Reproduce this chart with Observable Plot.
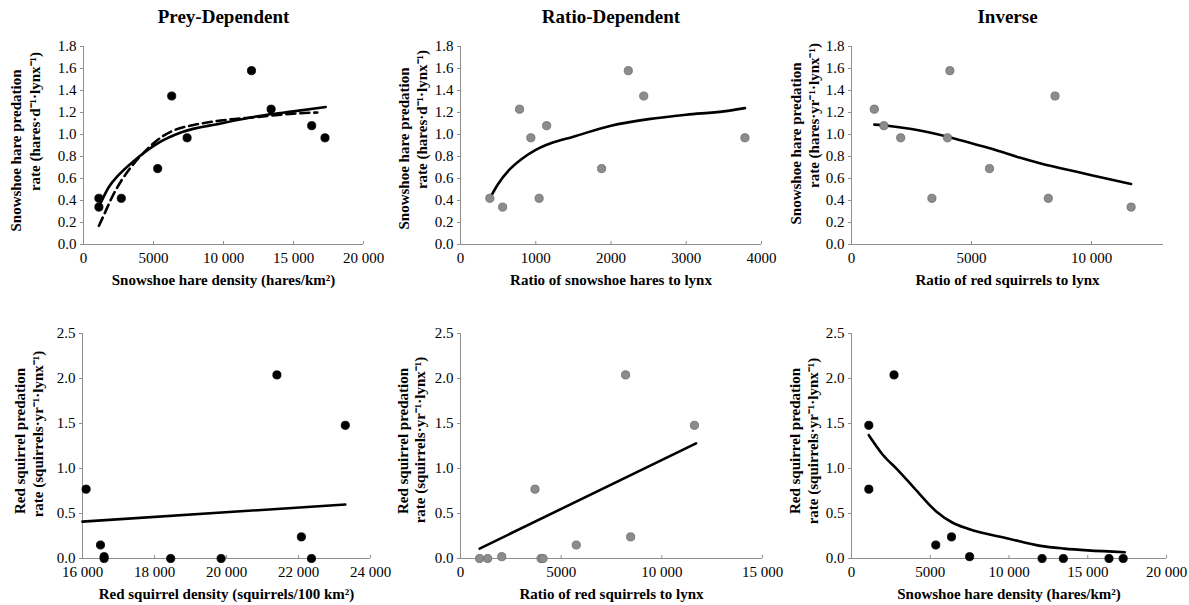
<!DOCTYPE html>
<html><head><meta charset="utf-8">
<script src="https://cdn.jsdelivr.net/npm/d3@7"></script>
<script src="https://cdn.jsdelivr.net/npm/@observablehq/plot@0.6"></script>
<style>
body{margin:0;background:#fff;}
#wrap{position:relative;width:1189px;height:605px;}
#wrap svg{position:absolute;}
#wrap svg, #wrap svg text{font-family:"Liberation Serif","Times New Roman",serif !important;}
</style></head><body><div id="wrap"></div>
<script>
// ---- titles ----
const columnTitles = ["Prey-Dependent", "Ratio-Dependent", "Inverse"];

// ---- tick values ----
const hareRateTicks = [0, 0.2, 0.4, 0.6, 0.8, 1.0, 1.2, 1.4, 1.6, 1.8];
const squirrelRateTicks = [0, 0.5, 1.0, 1.5, 2.0, 2.5];
const hareDensityTicks = [0, 5000, 10000, 15000, 20000];
const hareRatioTicks = [0, 1000, 2000, 3000, 4000];
const squirrelRatioTicksTop = [0, 5000, 10000];
const squirrelDensityTicks = [16000, 18000, 20000, 22000, 24000];
const squirrelRatioTicksBottom = [0, 5000, 10000, 15000];

// ---- Panel 1: hare predation vs hare density ----
const p1X = [1100, 1100, 2700, 5300, 6300, 7400, 12000, 13400, 16300, 17250];
const p1Y = [0.42, 0.34, 0.42, 0.69, 1.35, 0.97, 1.58, 1.23, 1.08, 0.97];
const p1SolidX = [1200, 1800, 2500, 3600, 5300, 7000, 9800, 13100, 15000, 17300];
const p1SolidY = [0.37, 0.52, 0.63, 0.76, 0.92, 1.02, 1.10, 1.18, 1.21, 1.25];
const p1DashX = [1100, 1500, 2000, 2700, 3500, 4500, 5500, 6500, 8000, 10000, 12500, 15000, 16700];
const p1DashY = [0.17, 0.28, 0.42, 0.58, 0.72, 0.86, 0.97, 1.04, 1.09, 1.13, 1.16, 1.19, 1.20];

// ---- Panel 2: hare predation vs hare:lynx ratio ----
const p2X = [390, 560, 785, 935, 1045, 1145, 1875, 2230, 2435, 3780];
const p2Y = [0.42, 0.34, 1.23, 0.97, 0.42, 1.08, 0.69, 1.58, 1.35, 0.97];
const p2FitX = [390, 500, 650, 800, 1000, 1200, 1500, 2000, 2500, 3000, 3500, 3780];
const p2FitY = [0.42, 0.55, 0.68, 0.77, 0.86, 0.92, 0.98, 1.08, 1.14, 1.18, 1.21, 1.24];

// ---- Panel 3: hare predation vs squirrel:lynx ratio ----
const p3X = [950, 1350, 2050, 3350, 4100, 4000, 5750, 8200, 8480, 11650];
const p3Y = [1.23, 1.08, 0.97, 0.42, 1.58, 0.97, 0.69, 0.42, 1.35, 0.34];
const p3FitX = [950, 1500, 2500, 4000, 5000, 6000, 7000, 8000, 9000, 10000, 11650];
const p3FitY = [1.09, 1.08, 1.05, 0.98, 0.92, 0.86, 0.79, 0.73, 0.68, 0.63, 0.55];

// ---- Panel 4: squirrel predation vs squirrel density ----
const p4X = [16100, 16500, 16600, 16600, 18450, 19850, 21400, 22080, 22360, 23300];
const p4Y = [0.77, 0.15, 0.02, 0.0, 0.0, 0.0, 2.04, 0.24, 0.0, 1.48];
const p4FitX = [16000, 23300];
const p4FitY = [0.41, 0.60];

// ---- Panel 5: squirrel predation vs squirrel:lynx ratio ----
const p5X = [950, 1350, 2050, 3700, 4000, 4100, 5750, 8200, 8450, 11620];
const p5Y = [0.0, 0.0, 0.02, 0.77, 0.0, 0.0, 0.15, 2.04, 0.24, 1.48];
const p5FitX = [950, 11700];
const p5FitY = [0.11, 1.28];

// ---- Panel 6: squirrel predation vs hare density ----
const p6X = [1100, 1100, 2700, 5350, 6350, 7500, 12100, 13450, 16350, 17250];
const p6Y = [1.48, 0.77, 2.04, 0.15, 0.24, 0.02, 0.0, 0.0, 0.0, 0.0];
const p6FitX = [1100, 2000, 2900, 4000, 5400, 6400, 7400, 10000, 12000, 13500, 15000, 17350];
const p6FitY = [1.37, 1.15, 0.99, 0.78, 0.52, 0.40, 0.33, 0.22, 0.14, 0.11, 0.09, 0.07];

// ---- labels ----
const xLabels = [
  "Snowshoe hare density (hares/km²)",
  "Ratio of snowshoe hares to lynx",
  "Ratio of red squirrels to lynx",
  "Red squirrel density (squirrels/100 km²)",
  "Ratio of red squirrels to lynx",
  "Snowshoe hare density (hares/km²)"
];
const yLabelsHare = ["Snowshoe hare predation", "rate (hares·d⁻¹·lynx⁻¹)", "rate (hares·yr⁻¹·lynx⁻¹)"];
const yLabelsSquirrel = ["Red squirrel predation", "rate (squirrels·yr⁻¹·lynx⁻¹)"];

const AX = "#8f8f8f";
const FONT = "Liberation Serif, Times New Roman, serif";
const fmtX = d => d >= 10000 ? d3.format(",")(d).replace(/,/g, " ") : d3.format("d")(d);
const fmtY = d3.format(".1f");
const zip = (xs, ys) => xs.map((x, i) => ({x, y: ys[i]}));
const TXT = {fontFamily: FONT, fill: "#000"};

function panel(o) {
  const marks = [
    Plot.ruleY([o.yDomain[0]], {stroke: AX, strokeWidth: 1}),
    Plot.ruleX([o.xDomain[0]], {stroke: AX, strokeWidth: 1}),
    Plot.axisX({ticks: o.xTicks, tickSize: -3, tickFormat: () => "", stroke: AX, label: null}),
    Plot.axisX({ticks: o.xTicks, tickFormat: fmtX, tickSize: 0, tickPadding: 8, fontSize: 15, ...TXT, label: null}),
    Plot.axisY({ticks: o.yTicks, tickFormat: fmtY, tickSize: 3, tickPadding: 4, fontSize: 15, stroke: AX, ...TXT, label: null}),
  ];
  for (const f of o.fits) {
    marks.push(Plot.line(zip(f.x, f.y), {x: "x", y: "y", stroke: "#000", strokeWidth: 2.6, curve: "monotone-x", strokeDasharray: f.dash || null}));
  }
  marks.push(Plot.dot(zip(o.px, o.py), {x: "x", y: "y", r: 4.1, fill: o.gray ? "#8c8c8c" : "#000", stroke: o.gray ? "#6a6a6a" : "#000", strokeWidth: 0.8}));
  marks.push(Plot.text([o.xLabel], {frameAnchor: "bottom", dy: 40, fontWeight: "bold", fontSize: 15, ...TXT}));
  marks.push(Plot.text([o.yLabel1], {frameAnchor: "left", textAnchor: "middle", rotate: -90, dx: o.yl1dx, dy: o.yl1dy, fontWeight: "bold", fontSize: 15, ...TXT}));
  marks.push(Plot.text([o.yLabel2], {frameAnchor: "left", textAnchor: "middle", rotate: -90, dx: o.yl2dx, dy: o.yl2dy, fontWeight: "bold", fontSize: 15, ...TXT}));
  if (o.title) marks.push(Plot.text([o.title], {frameAnchor: "top", dy: -37, fontWeight: "bold", fontSize: 19, ...TXT}));
  const svg = Plot.plot({
    width: o.w, height: o.h,
    marginLeft: o.ml, marginRight: o.w - o.ml - o.pw, marginTop: o.mt, marginBottom: o.h - o.mt - o.ph,
    style: {fontFamily: FONT, fontSize: "15px", background: "transparent", overflow: "visible"},
    x: {domain: o.xDomain},
    y: {domain: o.yDomain},
    marks
  });
  svg.style.left = o.left + "px";
  svg.style.top = o.top + "px";
  return svg;
}

const wrap = document.getElementById("wrap");
const top0 = 0, top1 = 300;
const panels = [
  {left: 0, top: top0, w: 400, h: 300, ml: 83, pw: 280, mt: 46, ph: 198, xDomain: [0, 20000], yDomain: [0, 1.8], xTicks: hareDensityTicks, yTicks: hareRateTicks,
   px: p1X, py: p1Y, fits: [{x: p1SolidX, y: p1SolidY}, {x: p1DashX, y: p1DashY, dash: "9,5"}], gray: false,
   xLabel: xLabels[0], yLabel1: yLabelsHare[0], yLabel2: yLabelsHare[1], yl1dx: -67, yl1dy: 5, yl2dx: -48, yl2dy: -24, title: columnTitles[0]},
  {left: 400, top: top0, w: 390, h: 300, ml: 60, pw: 301, mt: 46, ph: 198, xDomain: [0, 4000], yDomain: [0, 1.8], xTicks: hareRatioTicks, yTicks: hareRateTicks,
   px: p2X, py: p2Y, fits: [{x: p2FitX, y: p2FitY}], gray: true,
   xLabel: xLabels[1], yLabel1: yLabelsHare[0], yLabel2: yLabelsHare[1], yl1dx: -56, yl1dy: 3, yl2dx: -38, yl2dy: -26, title: columnTitles[1]},
  {left: 790, top: top0, w: 399, h: 300, ml: 61, pw: 312, mt: 46, ph: 198, xDomain: [0, 13000], yDomain: [0, 1.8], xTicks: squirrelRatioTicksTop, yTicks: hareRateTicks,
   px: p3X, py: p3Y, fits: [{x: p3FitX, y: p3FitY}], gray: true,
   xLabel: xLabels[2], yLabel1: yLabelsHare[0], yLabel2: yLabelsHare[2], yl1dx: -55, yl1dy: -2, yl2dx: -37, yl2dy: -30, title: columnTitles[2]},
  {left: 0, top: top1, w: 400, h: 305, ml: 82, pw: 288, mt: 33, ph: 225, xDomain: [16000, 24000], yDomain: [0, 2.5], xTicks: squirrelDensityTicks, yTicks: squirrelRateTicks,
   px: p4X, py: p4Y, fits: [{x: p4FitX, y: p4FitY}], gray: false,
   xLabel: xLabels[3], yLabel1: yLabelsSquirrel[0], yLabel2: yLabelsSquirrel[1], yl1dx: -62, yl1dy: -5, yl2dx: -44, yl2dy: -12},
  {left: 400, top: top1, w: 390, h: 305, ml: 60, pw: 302, mt: 33, ph: 225, xDomain: [0, 15000], yDomain: [0, 2.5], xTicks: squirrelRatioTicksBottom, yTicks: squirrelRateTicks,
   px: p5X, py: p5Y, fits: [{x: p5FitX, y: p5FitY}], gray: true,
   xLabel: xLabels[4], yLabel1: yLabelsSquirrel[0], yLabel2: yLabelsSquirrel[1], yl1dx: -57, yl1dy: -5, yl2dx: -40, yl2dy: -6},
  {left: 790, top: top1, w: 399, h: 305, ml: 61, pw: 315, mt: 33, ph: 225, xDomain: [0, 20000], yDomain: [0, 2.5], xTicks: hareDensityTicks, yTicks: squirrelRateTicks,
   px: p6X, py: p6Y, fits: [{x: p6FitX, y: p6FitY}], gray: false,
   xLabel: xLabels[5], yLabel1: yLabelsSquirrel[0], yLabel2: yLabelsSquirrel[1], yl1dx: -56, yl1dy: -5, yl2dx: -38, yl2dy: -5}
];
for (const p of panels) wrap.appendChild(panel(p));
</script>
</body></html>
